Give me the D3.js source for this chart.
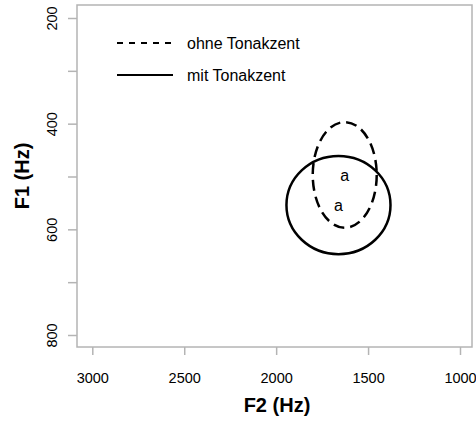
<!DOCTYPE html>
<html>
<head>
<meta charset="utf-8">
<script src="https://cdn.jsdelivr.net/npm/d3@7"></script>
<style>
body { margin: 0; background: #fff; }
svg { display: block; }
</style>
</head>
<body>
<svg id="chart"></svg>
<script>
var groups = ["ohne Tonakzent", "mit Tonakzent"];
var f2_mean = [1627, 1661];
var f1_mean = [497, 554];
var f2_radius = [174, 283];
var f1_radius = [100, 93];
var group_dash = ["11,6", null];
var labels = ["a", "a"];

var x_ticks = [3000, 2500, 2000, 1500, 1000];
var y_ticks = [200, 300, 400, 500, 600, 700, 800];

var width = 476, height = 426;
var svg = d3.select("#chart")
	.attr("width", width)
	.attr("height", height)
	.style("font-family", "Liberation Sans, Arial, sans-serif");

var x = d3.scaleLinear().domain([3000, 1000]).range([92.3, 460]);
var y = d3.scaleLinear().domain([200, 800]).range([18, 335]);

var box = { left: 77, right: 472, top: 5, bottom: 347 };

// box
svg.append("rect")
	.attr("x", box.left)
	.attr("y", box.top)
	.attr("width", box.right - box.left)
	.attr("height", box.bottom - box.top)
	.style("fill", "none")
	.style("stroke", "#b4b4b4")
	.style("stroke-width", 1.5);

// x axis
var xAxis = d3.axisBottom(x).tickValues(x_ticks).tickSize(8).tickPadding(18)
	.tickFormat(d3.format("d"));
var gx = svg.append("g")
	.attr("transform", "translate(0," + box.bottom + ")")
	.call(xAxis);
gx.select(".domain").remove();
gx.selectAll(".tick line").style("stroke", "#b4b4b4").style("stroke-width", 1.5);
gx.selectAll(".tick text")
	.style("font-family", "Liberation Sans, Arial, sans-serif")
	.style("font-size", "14.5px")
	.style("fill", "#000");

// y axis
var yAxis = d3.axisLeft(y).tickValues(y_ticks).tickSize(9).tickPadding(0)
	.tickFormat(function(d) { return (d % 200 == 0) ? d : ""; });
var gy = svg.append("g")
	.attr("transform", "translate(" + box.left + ",0)")
	.call(yAxis);
gy.select(".domain").remove();
gy.selectAll(".tick line").style("stroke", "#b4b4b4").style("stroke-width", 1.5);
gy.selectAll(".tick text")
	.attr("x", 0)
	.attr("dy", null)
	.attr("transform", "translate(-25,0) rotate(-90)")
	.style("text-anchor", "middle")
	.style("dominant-baseline", "central")
	.style("font-family", "Liberation Sans, Arial, sans-serif")
	.style("font-size", "14.5px")
	.style("fill", "#000");

// axis titles
svg.append("text")
	.attr("x", 277)
	.attr("y", 412)
	.style("text-anchor", "middle")
	.style("font-size", "20px")
	.style("font-weight", "bold")
	.text("F2 (Hz)");
svg.append("text")
	.attr("transform", "translate(29,176) rotate(-90)")
	.style("text-anchor", "middle")
	.style("font-size", "20px")
	.style("font-weight", "bold")
	.text("F1 (Hz)");

// ellipses
groups.forEach(function(g, i) {
	var cx = x(f2_mean[i]), cy = y(f1_mean[i]);
	var rx = Math.abs(x(f2_mean[i] + f2_radius[i]) - cx);
	var ry = Math.abs(y(f1_mean[i] + f1_radius[i]) - cy);
	svg.append("ellipse")
		.attr("cx", cx)
		.attr("cy", cy)
		.attr("rx", rx)
		.attr("ry", ry)
		.style("fill", "none")
		.style("stroke", "#000")
		.style("stroke-width", 2.5)
		.style("stroke-dasharray", group_dash[i]);
	svg.append("text")
		.attr("x", cx)
		.attr("y", cy)
		.attr("dy", "0.35em")
		.style("text-anchor", "middle")
		.style("font-size", "16px")
		.text(labels[i]);
});

// legend
groups.forEach(function(g, i) {
	var ly = 43 + i * 32;
	svg.append("line")
		.attr("x1", 117)
		.attr("x2", 173)
		.attr("y1", ly)
		.attr("y2", ly)
		.style("stroke", "#000")
		.style("stroke-width", 2)
		.style("stroke-dasharray", group_dash[i] ? "6,6" : null);
	svg.append("text")
		.attr("x", 187)
		.attr("y", ly)
		.attr("dy", "0.35em")
		.style("font-size", "16px")
		.text(g);
});
</script>
</body>
</html>
